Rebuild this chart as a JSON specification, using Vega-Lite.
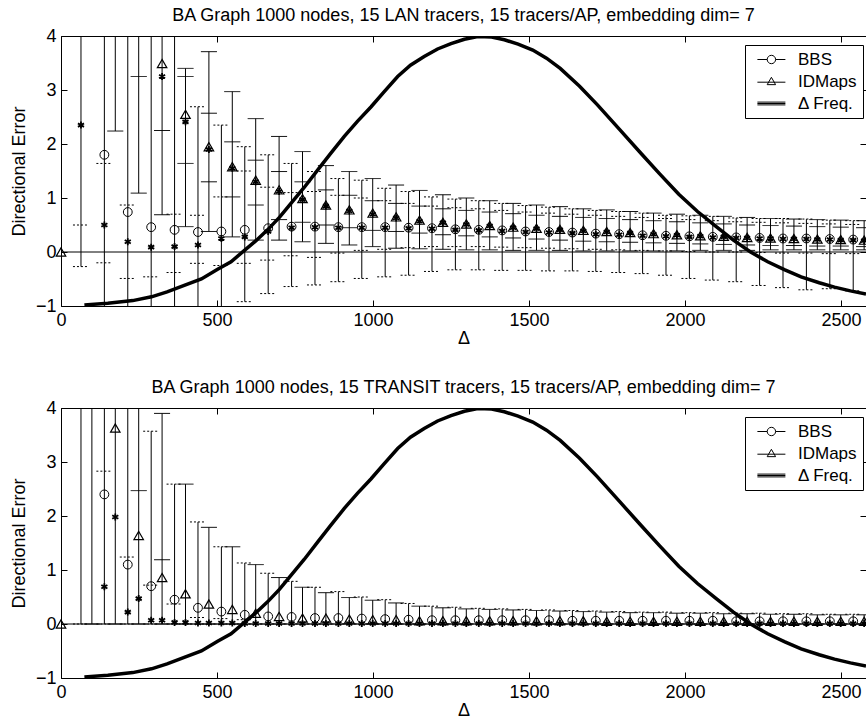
{
"$schema": "https://vega.github.io/schema/vega-lite/v6.json",
"padding": {"left": 9, "top": 6, "right": 0, "bottom": 0},
"config": {
  "font": "Liberation Sans",
  "view": {"stroke": "black", "strokeWidth": 1},
  "axis": {"grid": false, "domain": false, "tickColor": "black", "tickSize": -6, "tickWidth": 1, "labelColor": "black", "labelFontSize": 18, "labelPadding": 11, "labelFlush": false, "labelOverlap": false, "titleColor": "black", "titleFontSize": 18, "titleFontWeight": "normal", "labelFont": "Liberation Sans", "titleFont": "Liberation Sans"},
  "title": {"fontSize": 18, "fontWeight": "normal", "color": "black", "font": "Liberation Sans", "offset": 2},
  "legend": {"labelFontSize": 17, "labelColor": "black", "labelFont": "Liberation Sans"}
},
"datasets": {
  "freq": [
    {"x":75,"y":-0.98},{"x":150,"y":-0.95},{"x":230,"y":-0.9},{"x":290,"y":-0.83},{"x":340,"y":-0.74},{"x":395,"y":-0.62},{"x":450,"y":-0.5},{"x":502,"y":-0.32},{"x":545,"y":-0.18},{"x":588,"y":0.03},{"x":625,"y":0.21},{"x":662,"y":0.41},{"x":700,"y":0.64},{"x":737,"y":0.9},{"x":780,"y":1.2},{"x":823,"y":1.52},{"x":865,"y":1.83},{"x":908,"y":2.14},{"x":950,"y":2.42},{"x":994,"y":2.69},{"x":1036,"y":2.97},{"x":1079,"y":3.25},{"x":1120,"y":3.46},{"x":1164,"y":3.62},{"x":1207,"y":3.76},{"x":1250,"y":3.86},{"x":1293,"y":3.94},{"x":1336,"y":3.99},{"x":1380,"y":3.98},{"x":1421,"y":3.93},{"x":1465,"y":3.85},{"x":1512,"y":3.74},{"x":1556,"y":3.59},{"x":1600,"y":3.4},{"x":1662,"y":3.07},{"x":1720,"y":2.72},{"x":1790,"y":2.27},{"x":1860,"y":1.82},{"x":1918,"y":1.45},{"x":1980,"y":1.07},{"x":2040,"y":0.75},{"x":2100,"y":0.47},{"x":2155,"y":0.22},{"x":2210,"y":0.0},{"x":2265,"y":-0.18},{"x":2320,"y":-0.33},{"x":2372,"y":-0.46},{"x":2430,"y":-0.57},{"x":2479,"y":-0.65},{"x":2530,"y":-0.72},{"x":2580,"y":-0.78}
  ],
  "err": [
    {"p":"LAN","s":"BBS","x":64,"d":2.35,"lo":-0.27,"hi":5,"q1":0.5},
    {"p":"LAN","s":"BBS","x":139,"m":1.8,"d":0.5,"lo":-1.3,"hi":5,"q1":1.64,"q2":-0.2},
    {"p":"LAN","s":"BBS","x":214,"m":0.74,"d":0.19,"lo":-1.3,"hi":5,"q1":0.87,"q2":-0.49},
    {"p":"LAN","s":"BBS","x":289,"m":0.46,"d":0.09,"lo":-1.3,"hi":5,"q1":-0.46},
    {"p":"LAN","s":"BBS","x":364,"m":0.41,"d":0.1,"lo":-1.2,"hi":5,"q1":0.7,"q2":-0.38},
    {"p":"LAN","s":"BBS","x":439,"m":0.37,"d":0.13,"lo":-1.1,"hi":2.69,"q1":0.68,"q2":-0.21},
    {"p":"LAN","s":"BBS","x":514,"m":0.38,"d":0.25,"lo":-1.05,"hi":2.35,"q1":1.02,"q2":-0.25},
    {"p":"LAN","s":"BBS","x":589,"m":0.41,"d":0.28,"lo":-0.92,"hi":1.95,"q1":1.5,"q2":-0.21},
    {"p":"LAN","s":"BBS","x":664,"m":0.44,"d":0.38,"lo":-0.77,"hi":1.8,"q1":1.2,"q2":-0.15},
    {"p":"LAN","s":"BBS","x":739,"m":0.47,"d":0.45,"lo":-0.64,"hi":1.64,"q1":1.1,"q2":-0.07},
    {"p":"LAN","s":"BBS","x":814,"m":0.47,"d":0.46,"lo":-0.61,"hi":1.49,"q1":1.12,"q2":-0.1},
    {"p":"LAN","s":"BBS","x":889,"m":0.46,"d":0.45,"lo":-0.55,"hi":1.36,"q1":1.05,"q2":-0.02},
    {"p":"LAN","s":"BBS","x":964,"m":0.46,"d":0.45,"lo":-0.49,"hi":1.33,"q1":1.0,"q2":0.03},
    {"p":"LAN","s":"BBS","x":1039,"m":0.46,"d":0.45,"lo":-0.46,"hi":1.18,"q1":0.95,"q2":0.05},
    {"p":"LAN","s":"BBS","x":1114,"m":0.45,"d":0.44,"lo":-0.43,"hi":1.12,"q1":0.9,"q2":0.08},
    {"p":"LAN","s":"BBS","x":1189,"m":0.44,"d":0.43,"lo":-0.36,"hi":1.02,"q1":0.85,"q2":0.1},
    {"p":"LAN","s":"BBS","x":1264,"m":0.42,"d":0.41,"lo":-0.33,"hi":0.98,"q1":0.82,"q2":0.1},
    {"p":"LAN","s":"BBS","x":1339,"m":0.41,"d":0.4,"lo":-0.33,"hi":0.95,"q1":0.8,"q2":0.1},
    {"p":"LAN","s":"BBS","x":1414,"m":0.4,"d":0.39,"lo":-0.34,"hi":0.9,"q1":0.77,"q2":0.09},
    {"p":"LAN","s":"BBS","x":1489,"m":0.38,"d":0.37,"lo":-0.34,"hi":0.86,"q1":0.74,"q2":0.08},
    {"p":"LAN","s":"BBS","x":1564,"m":0.37,"d":0.36,"lo":-0.35,"hi":0.83,"q1":0.72,"q2":0.07},
    {"p":"LAN","s":"BBS","x":1639,"m":0.36,"d":0.35,"lo":-0.35,"hi":0.8,"q1":0.7,"q2":0.06},
    {"p":"LAN","s":"BBS","x":1714,"m":0.34,"d":0.33,"lo":-0.36,"hi":0.77,"q1":0.68,"q2":0.05},
    {"p":"LAN","s":"BBS","x":1789,"m":0.33,"d":0.32,"lo":-0.38,"hi":0.75,"q1":0.66,"q2":0.04},
    {"p":"LAN","s":"BBS","x":1864,"m":0.31,"d":0.3,"lo":-0.4,"hi":0.72,"q1":0.64,"q2":0.03},
    {"p":"LAN","s":"BBS","x":1939,"m":0.3,"d":0.29,"lo":-0.43,"hi":0.68,"q1":0.62,"q2":0.02},
    {"p":"LAN","s":"BBS","x":2014,"m":0.29,"d":0.28,"lo":-0.49,"hi":0.67,"q1":0.6,"q2":0.01},
    {"p":"LAN","s":"BBS","x":2089,"m":0.28,"d":0.27,"lo":-0.52,"hi":0.66,"q1":0.58,"q2":0.0},
    {"p":"LAN","s":"BBS","x":2164,"m":0.27,"d":0.26,"lo":-0.55,"hi":0.63,"q1":0.56,"q2":0.0},
    {"p":"LAN","s":"BBS","x":2239,"m":0.26,"d":0.25,"lo":-0.62,"hi":0.62,"q1":0.55,"q2":-0.01},
    {"p":"LAN","s":"BBS","x":2314,"m":0.25,"d":0.24,"lo":-0.66,"hi":0.62,"q1":0.54,"q2":-0.02},
    {"p":"LAN","s":"BBS","x":2389,"m":0.25,"d":0.24,"lo":-0.7,"hi":0.61,"q1":0.53,"q2":-0.02},
    {"p":"LAN","s":"BBS","x":2464,"m":0.24,"d":0.23,"lo":-0.68,"hi":0.59,"q1":0.52,"q2":-0.03},
    {"p":"LAN","s":"BBS","x":2539,"m":0.23,"d":0.22,"lo":-0.72,"hi":0.58,"q1":0.51,"q2":-0.03},
    {"p":"LAN","s":"IDMaps","x":0,"m":0},
    {"p":"LAN","s":"IDMaps","x":174,"lo":2.24,"hi":5},
    {"p":"LAN","s":"IDMaps","x":249,"lo":1.09,"hi":5,"q1":3.25},
    {"p":"LAN","s":"IDMaps","x":324,"m":3.49,"d":3.25,"lo":0.69,"hi":5,"q1":2.25},
    {"p":"LAN","s":"IDMaps","x":399,"m":2.55,"d":2.41,"lo":0.47,"hi":3.4,"q1":3.25,"q2":1.64},
    {"p":"LAN","s":"IDMaps","x":474,"m":1.95,"d":1.9,"lo":0.38,"hi":3.71,"q1":2.57,"q2":1.3},
    {"p":"LAN","s":"IDMaps","x":549,"m":1.58,"d":1.55,"lo":0.28,"hi":2.97,"q1":2.04,"q2":1.02},
    {"p":"LAN","s":"IDMaps","x":624,"m":1.33,"d":1.3,"lo":0.22,"hi":2.47,"q1":1.7,"q2":0.87},
    {"p":"LAN","s":"IDMaps","x":699,"m":1.15,"d":1.12,"lo":0.22,"hi":2.14,"q1":1.49,"q2":0.6},
    {"p":"LAN","s":"IDMaps","x":774,"m":0.99,"d":0.97,"lo":0.19,"hi":1.86,"q1":1.3,"q2":0.55},
    {"p":"LAN","s":"IDMaps","x":849,"m":0.87,"d":0.85,"lo":0.16,"hi":1.6,"q1":1.15,"q2":0.5},
    {"p":"LAN","s":"IDMaps","x":924,"m":0.78,"d":0.76,"lo":0.13,"hi":1.49,"q1":1.05,"q2":0.45},
    {"p":"LAN","s":"IDMaps","x":999,"m":0.72,"d":0.7,"lo":0.1,"hi":1.36,"q1":0.95,"q2":0.4},
    {"p":"LAN","s":"IDMaps","x":1074,"m":0.65,"d":0.63,"lo":0.07,"hi":1.24,"q1":0.9,"q2":0.38},
    {"p":"LAN","s":"IDMaps","x":1149,"m":0.59,"d":0.57,"lo":0.06,"hi":1.14,"q1":0.85,"q2":0.35},
    {"p":"LAN","s":"IDMaps","x":1224,"m":0.55,"d":0.54,"lo":0.05,"hi":1.06,"q1":0.8,"q2":0.32},
    {"p":"LAN","s":"IDMaps","x":1299,"m":0.52,"d":0.51,"lo":0.04,"hi":1.0,"q1":0.77,"q2":0.3},
    {"p":"LAN","s":"IDMaps","x":1374,"m":0.49,"d":0.48,"lo":0.04,"hi":0.95,"q1":0.74,"q2":0.28},
    {"p":"LAN","s":"IDMaps","x":1449,"m":0.46,"d":0.45,"lo":0.03,"hi":0.9,"q1":0.71,"q2":0.26},
    {"p":"LAN","s":"IDMaps","x":1524,"m":0.44,"d":0.43,"lo":0.03,"hi":0.87,"q1":0.68,"q2":0.24},
    {"p":"LAN","s":"IDMaps","x":1599,"m":0.42,"d":0.41,"lo":0.03,"hi":0.84,"q1":0.66,"q2":0.22},
    {"p":"LAN","s":"IDMaps","x":1674,"m":0.4,"d":0.39,"lo":0.02,"hi":0.8,"q1":0.64,"q2":0.2},
    {"p":"LAN","s":"IDMaps","x":1749,"m":0.38,"d":0.37,"lo":0.02,"hi":0.78,"q1":0.62,"q2":0.19},
    {"p":"LAN","s":"IDMaps","x":1824,"m":0.36,"d":0.35,"lo":0.02,"hi":0.75,"q1":0.6,"q2":0.18},
    {"p":"LAN","s":"IDMaps","x":1899,"m":0.34,"d":0.33,"lo":0.02,"hi":0.72,"q1":0.58,"q2":0.17},
    {"p":"LAN","s":"IDMaps","x":1974,"m":0.32,"d":0.31,"lo":0.02,"hi":0.7,"q1":0.56,"q2":0.16},
    {"p":"LAN","s":"IDMaps","x":2049,"m":0.3,"d":0.29,"lo":0.03,"hi":0.68,"q1":0.54,"q2":0.15},
    {"p":"LAN","s":"IDMaps","x":2124,"m":0.29,"d":0.28,"lo":0.03,"hi":0.66,"q1":0.52,"q2":0.14},
    {"p":"LAN","s":"IDMaps","x":2199,"m":0.27,"d":0.26,"lo":0.03,"hi":0.64,"q1":0.5,"q2":0.13},
    {"p":"LAN","s":"IDMaps","x":2274,"m":0.26,"d":0.25,"lo":0.04,"hi":0.62,"q1":0.49,"q2":0.12},
    {"p":"LAN","s":"IDMaps","x":2349,"m":0.25,"d":0.24,"lo":0.04,"hi":0.61,"q1":0.48,"q2":0.12},
    {"p":"LAN","s":"IDMaps","x":2424,"m":0.24,"d":0.23,"lo":0.04,"hi":0.6,"q1":0.47,"q2":0.11},
    {"p":"LAN","s":"IDMaps","x":2499,"m":0.23,"d":0.22,"lo":0.04,"hi":0.59,"q1":0.46,"q2":0.11},
    {"p":"LAN","s":"IDMaps","x":2574,"m":0.22,"d":0.21,"lo":0.04,"hi":0.58,"q1":0.45,"q2":0.1},
    {"p":"TRANSIT","s":"BBS","x":64,"lo":0,"hi":5},
    {"p":"TRANSIT","s":"BBS","x":139,"m":2.4,"d":0.69,"lo":0,"hi":5,"q1":2.83},
    {"p":"TRANSIT","s":"BBS","x":214,"m":1.1,"d":0.22,"lo":0,"hi":5,"q1":1.24},
    {"p":"TRANSIT","s":"BBS","x":289,"m":0.7,"d":0.07,"lo":0,"hi":3.57,"q1":0.72},
    {"p":"TRANSIT","s":"BBS","x":364,"m":0.45,"d":0.03,"lo":0,"hi":2.59,"q1":0.37},
    {"p":"TRANSIT","s":"BBS","x":439,"m":0.3,"d":0.02,"lo":0,"hi":1.89,"q1":0.12},
    {"p":"TRANSIT","s":"BBS","x":514,"m":0.23,"d":0.02,"lo":0,"hi":1.43,"q1":0.1},
    {"p":"TRANSIT","s":"BBS","x":589,"m":0.17,"d":0.01,"lo":0,"hi":1.13,"q1":0.08},
    {"p":"TRANSIT","s":"BBS","x":664,"m":0.14,"d":0.01,"lo":0,"hi":0.94},
    {"p":"TRANSIT","s":"BBS","x":739,"m":0.13,"d":0.01,"lo":0,"hi":0.79},
    {"p":"TRANSIT","s":"BBS","x":814,"m":0.11,"d":0.01,"lo":0,"hi":0.68},
    {"p":"TRANSIT","s":"BBS","x":889,"m":0.11,"d":0.01,"lo":0,"hi":0.6},
    {"p":"TRANSIT","s":"BBS","x":964,"m":0.1,"d":0.01,"lo":0,"hi":0.5},
    {"p":"TRANSIT","s":"BBS","x":1039,"m":0.09,"d":0.01,"lo":0,"hi":0.45},
    {"p":"TRANSIT","s":"BBS","x":1114,"m":0.08,"d":0.01,"lo":0,"hi":0.38},
    {"p":"TRANSIT","s":"BBS","x":1189,"m":0.07,"d":0.01,"lo":0,"hi":0.33},
    {"p":"TRANSIT","s":"BBS","x":1264,"m":0.07,"d":0.01,"lo":0,"hi":0.31},
    {"p":"TRANSIT","s":"BBS","x":1339,"m":0.07,"d":0.01,"lo":0,"hi":0.29},
    {"p":"TRANSIT","s":"BBS","x":1414,"m":0.07,"d":0.01,"lo":0,"hi":0.28},
    {"p":"TRANSIT","s":"BBS","x":1489,"m":0.07,"d":0.01,"lo":0,"hi":0.27},
    {"p":"TRANSIT","s":"BBS","x":1564,"m":0.07,"d":0.01,"lo":0,"hi":0.26},
    {"p":"TRANSIT","s":"BBS","x":1639,"m":0.06,"d":0.01,"lo":0,"hi":0.25},
    {"p":"TRANSIT","s":"BBS","x":1714,"m":0.06,"d":0.01,"lo":0,"hi":0.24},
    {"p":"TRANSIT","s":"BBS","x":1789,"m":0.06,"d":0.01,"lo":0,"hi":0.23},
    {"p":"TRANSIT","s":"BBS","x":1864,"m":0.06,"d":0.01,"lo":0,"hi":0.22},
    {"p":"TRANSIT","s":"BBS","x":1939,"m":0.06,"d":0.01,"lo":0,"hi":0.22},
    {"p":"TRANSIT","s":"BBS","x":2014,"m":0.06,"d":0.01,"lo":0,"hi":0.21},
    {"p":"TRANSIT","s":"BBS","x":2089,"m":0.06,"d":0.01,"lo":0,"hi":0.21},
    {"p":"TRANSIT","s":"BBS","x":2164,"m":0.05,"d":0.01,"lo":0,"hi":0.2},
    {"p":"TRANSIT","s":"BBS","x":2239,"m":0.05,"d":0.01,"lo":0,"hi":0.2},
    {"p":"TRANSIT","s":"BBS","x":2314,"m":0.05,"d":0.01,"lo":0,"hi":0.19},
    {"p":"TRANSIT","s":"BBS","x":2389,"m":0.05,"d":0.01,"lo":0,"hi":0.19},
    {"p":"TRANSIT","s":"BBS","x":2464,"m":0.05,"d":0.01,"lo":0,"hi":0.18},
    {"p":"TRANSIT","s":"BBS","x":2539,"m":0.05,"d":0.01,"lo":0,"hi":0.18},
    {"p":"TRANSIT","s":"IDMaps","x":0,"m":0},
    {"p":"TRANSIT","s":"IDMaps","x":99,"lo":0,"hi":5},
    {"p":"TRANSIT","s":"IDMaps","x":174,"m":3.63,"d":1.98,"lo":0,"hi":5},
    {"p":"TRANSIT","s":"IDMaps","x":249,"m":1.64,"d":0.47,"lo":0,"hi":5,"q1":2.47},
    {"p":"TRANSIT","s":"IDMaps","x":324,"m":0.86,"d":0.07,"lo":0,"hi":3.9,"q1":1.19},
    {"p":"TRANSIT","s":"IDMaps","x":399,"m":0.56,"d":0.03,"lo":0,"hi":2.59},
    {"p":"TRANSIT","s":"IDMaps","x":474,"m":0.37,"d":0.02,"lo":0,"hi":1.79},
    {"p":"TRANSIT","s":"IDMaps","x":549,"m":0.27,"d":0.02,"lo":0,"hi":1.43},
    {"p":"TRANSIT","s":"IDMaps","x":624,"m":0.2,"d":0.01,"lo":0,"hi":1.1},
    {"p":"TRANSIT","s":"IDMaps","x":699,"m":0.14,"d":0.01,"lo":0,"hi":0.86},
    {"p":"TRANSIT","s":"IDMaps","x":774,"m":0.11,"d":0.01,"lo":0,"hi":0.68},
    {"p":"TRANSIT","s":"IDMaps","x":849,"m":0.11,"d":0.01,"lo":0,"hi":0.58},
    {"p":"TRANSIT","s":"IDMaps","x":924,"m":0.09,"d":0.01,"lo":0,"hi":0.49},
    {"p":"TRANSIT","s":"IDMaps","x":999,"m":0.08,"d":0.01,"lo":0,"hi":0.44},
    {"p":"TRANSIT","s":"IDMaps","x":1074,"m":0.08,"d":0.01,"lo":0,"hi":0.39},
    {"p":"TRANSIT","s":"IDMaps","x":1149,"m":0.06,"d":0.01,"lo":0,"hi":0.33},
    {"p":"TRANSIT","s":"IDMaps","x":1224,"m":0.06,"d":0.01,"lo":0,"hi":0.3},
    {"p":"TRANSIT","s":"IDMaps","x":1299,"m":0.06,"d":0.01,"lo":0,"hi":0.28},
    {"p":"TRANSIT","s":"IDMaps","x":1374,"m":0.06,"d":0.01,"lo":0,"hi":0.27},
    {"p":"TRANSIT","s":"IDMaps","x":1449,"m":0.06,"d":0.01,"lo":0,"hi":0.26},
    {"p":"TRANSIT","s":"IDMaps","x":1524,"m":0.06,"d":0.01,"lo":0,"hi":0.25},
    {"p":"TRANSIT","s":"IDMaps","x":1599,"m":0.06,"d":0.01,"lo":0,"hi":0.24},
    {"p":"TRANSIT","s":"IDMaps","x":1674,"m":0.06,"d":0.01,"lo":0,"hi":0.23},
    {"p":"TRANSIT","s":"IDMaps","x":1749,"m":0.05,"d":0.01,"lo":0,"hi":0.22},
    {"p":"TRANSIT","s":"IDMaps","x":1824,"m":0.05,"d":0.01,"lo":0,"hi":0.21},
    {"p":"TRANSIT","s":"IDMaps","x":1899,"m":0.05,"d":0.01,"lo":0,"hi":0.21},
    {"p":"TRANSIT","s":"IDMaps","x":1974,"m":0.05,"d":0.01,"lo":0,"hi":0.2},
    {"p":"TRANSIT","s":"IDMaps","x":2049,"m":0.05,"d":0.01,"lo":0,"hi":0.2},
    {"p":"TRANSIT","s":"IDMaps","x":2124,"m":0.05,"d":0.01,"lo":0,"hi":0.19},
    {"p":"TRANSIT","s":"IDMaps","x":2199,"m":0.05,"d":0.01,"lo":0,"hi":0.19},
    {"p":"TRANSIT","s":"IDMaps","x":2274,"m":0.05,"d":0.01,"lo":0,"hi":0.18},
    {"p":"TRANSIT","s":"IDMaps","x":2349,"m":0.05,"d":0.01,"lo":0,"hi":0.18},
    {"p":"TRANSIT","s":"IDMaps","x":2424,"m":0.05,"d":0.01,"lo":0,"hi":0.17},
    {"p":"TRANSIT","s":"IDMaps","x":2499,"m":0.05,"d":0.01,"lo":0,"hi":0.17},
    {"p":"TRANSIT","s":"IDMaps","x":2574,"m":0.05,"d":0.01,"lo":0,"hi":0.17}
  ]
},
"spacing": 30,
"resolve": {"scale": {"shape": "independent", "strokeDash": "independent"}, "legend": {"shape": "independent"}},
"vconcat": [
 {
  "width": 805, "height": 270,
  "title": {"text": "BA Graph 1000 nodes, 15 LAN tracers, 15 tracers/AP, embedding dim= 7"},
  "layer": [
   {"data": {"values": [{"y": 0}]}, "mark": {"type": "rule", "color": "black", "strokeWidth": 1}, "encoding": {"y": {"field": "y", "type": "quantitative", "scale": {"domain": [-1, 4], "nice": false, "zero": false}, "axis": null}}},
   {"data": {"name": "err"}, "transform": [{"filter": "datum.p == 'LAN'"}], "mark": {"type": "rule", "color": "black", "strokeWidth": 1, "clip": true},
    "encoding": {"x": {"field": "x", "type": "quantitative", "scale": {"domain": [0, 2580], "nice": false, "zero": false}, "axis": {"orient": "bottom", "title": "Δ", "format": "d", "values": [0, 500, 1000, 1500, 2000, 2500], "titlePadding": 0}},
                 "y": {"field": "lo", "type": "quantitative", "scale": {"domain": [-1, 4], "nice": false, "zero": false}, "axis": {"orient": "left", "title": "Directional Error", "values": [-1, 0, 1, 2, 3, 4], "titlePadding": 7}},
                 "y2": {"field": "hi"}}},
   {"data": {"name": "err"}, "transform": [{"filter": "datum.p == 'LAN'"}, {"fold": ["lo", "hi", "q1", "q2"], "as": ["k", "v"]}], "mark": {"type": "rule", "color": "black", "strokeWidth": 1, "xOffset": -8, "x2Offset": 8, "clip": true},
    "encoding": {"x": {"field": "x", "type": "quantitative", "scale": {"domain": [0, 2580], "nice": false, "zero": false}, "axis": null},
                 "x2": {"field": "x"},
                 "y": {"field": "v", "type": "quantitative", "scale": {"domain": [-1, 4], "nice": false, "zero": false}, "axis": null},
                 "strokeDash": {"field": "s", "type": "nominal", "scale": {"domain": ["BBS", "IDMaps"], "range": [[2, 2], [1, 0]]}, "legend": null}}},
   {"data": {"name": "err"}, "transform": [{"filter": "datum.p == 'LAN' && datum.s == 'BBS'"}], "mark": {"type": "point", "shape": "circle", "size": 78, "filled": false, "color": "black", "strokeWidth": 1, "opacity": 1},
    "encoding": {"x": {"field": "x", "type": "quantitative", "scale": {"domain": [0, 2580], "nice": false, "zero": false}, "axis": null},
                 "y": {"field": "m", "type": "quantitative", "scale": {"domain": [-1, 4], "nice": false, "zero": false}, "axis": null}}},
   {"data": {"name": "err"}, "transform": [{"filter": "datum.p == 'LAN' && datum.s == 'IDMaps'"}], "mark": {"type": "point", "shape": "triangle-up", "size": 90, "filled": false, "color": "black", "strokeWidth": 1.2, "opacity": 1},
    "encoding": {"x": {"field": "x", "type": "quantitative", "scale": {"domain": [0, 2580], "nice": false, "zero": false}, "axis": null},
                 "y": {"field": "m", "type": "quantitative", "scale": {"domain": [-1, 4], "nice": false, "zero": false}, "axis": null}}},
   {"data": {"name": "err"}, "transform": [{"filter": "datum.p == 'LAN'"}], "mark": {"type": "point", "shape": "M0,-1V1M-0.87,-0.5L0.87,0.5M-0.87,0.5L0.87,-0.5", "size": 49, "filled": false, "color": "black", "strokeWidth": 1.8, "opacity": 1},
    "encoding": {"x": {"field": "x", "type": "quantitative", "scale": {"domain": [0, 2580], "nice": false, "zero": false}, "axis": null},
                 "y": {"field": "d", "type": "quantitative", "scale": {"domain": [-1, 4], "nice": false, "zero": false}, "axis": null}}},
   {"data": {"name": "freq"}, "mark": {"type": "line", "color": "black", "strokeWidth": 3.5, "clip": true},
    "encoding": {"x": {"field": "x", "type": "quantitative", "scale": {"domain": [0, 2580], "nice": false, "zero": false}, "axis": {"orient": "top", "title": null, "labels": false, "values": [0, 500, 1000, 1500, 2000, 2500]}},
                 "y": {"field": "y", "type": "quantitative", "scale": {"domain": [-1, 4], "nice": false, "zero": false}, "axis": {"orient": "right", "title": null, "labels": false, "values": [-1, 0, 1, 2, 3, 4]}}}},
   {"data": {"name": "freq"}, "transform": [{"filter": "datum.x < 0"}], "mark": {"type": "point", "filled": false, "color": "black", "strokeWidth": 1, "opacity": 1},
    "encoding": {"x": {"field": "x", "type": "quantitative", "scale": {"domain": [0, 2580], "nice": false, "zero": false}, "axis": null},
                 "y": {"field": "y", "type": "quantitative", "scale": {"domain": [-1, 4], "nice": false, "zero": false}, "axis": null},
                 "shape": {"field": "series", "type": "nominal", "scale": {"domain": ["BBS", "IDMaps", "Δ Freq."], "range": ["M-0.3,0H1.1M2.3,0H3.7M2.3,0A0.6,0.6 0 1,1 1.1,0A0.6,0.6 0 1,1 2.3,0", "M-0.3,0.1H3.7M1.7,-0.6L2.3,0.45L1.1,0.45Z", "M-0.3,-0.2H3.7M-0.3,0H3.7M-0.3,0.2H3.7"]},
                           "legend": {"title": null, "orient": "none", "legendX": 684, "legendY": 9, "strokeColor": "black", "fillColor": "white", "padding": 6, "symbolSize": 196, "symbolStrokeColor": "black", "symbolFillColor": "transparent", "symbolStrokeWidth": 1, "labelFontSize": 17, "labelOffset": 30, "rowPadding": 4, "labelLimit": 300}}}}
  ]
 },
 {
  "width": 805, "height": 270,
  "title": {"text": "BA Graph 1000 nodes, 15 TRANSIT tracers, 15 tracers/AP, embedding dim= 7"},
  "layer": [
   {"data": {"values": [{"y": 0}]}, "mark": {"type": "rule", "color": "black", "strokeWidth": 1}, "encoding": {"y": {"field": "y", "type": "quantitative", "scale": {"domain": [-1, 4], "nice": false, "zero": false}, "axis": null}}},
   {"data": {"name": "err"}, "transform": [{"filter": "datum.p == 'TRANSIT'"}], "mark": {"type": "rule", "color": "black", "strokeWidth": 1, "clip": true},
    "encoding": {"x": {"field": "x", "type": "quantitative", "scale": {"domain": [0, 2580], "nice": false, "zero": false}, "axis": {"orient": "bottom", "title": "Δ", "format": "d", "values": [0, 500, 1000, 1500, 2000, 2500], "titlePadding": 0}},
                 "y": {"field": "lo", "type": "quantitative", "scale": {"domain": [-1, 4], "nice": false, "zero": false}, "axis": {"orient": "left", "title": "Directional Error", "values": [-1, 0, 1, 2, 3, 4], "titlePadding": 7}},
                 "y2": {"field": "hi"}}},
   {"data": {"name": "err"}, "transform": [{"filter": "datum.p == 'TRANSIT'"}, {"fold": ["lo", "hi", "q1", "q2"], "as": ["k", "v"]}], "mark": {"type": "rule", "color": "black", "strokeWidth": 1, "xOffset": -8, "x2Offset": 8, "clip": true},
    "encoding": {"x": {"field": "x", "type": "quantitative", "scale": {"domain": [0, 2580], "nice": false, "zero": false}, "axis": null},
                 "x2": {"field": "x"},
                 "y": {"field": "v", "type": "quantitative", "scale": {"domain": [-1, 4], "nice": false, "zero": false}, "axis": null},
                 "strokeDash": {"field": "s", "type": "nominal", "scale": {"domain": ["BBS", "IDMaps"], "range": [[2, 2], [1, 0]]}, "legend": null}}},
   {"data": {"name": "err"}, "transform": [{"filter": "datum.p == 'TRANSIT' && datum.s == 'BBS'"}], "mark": {"type": "point", "shape": "circle", "size": 78, "filled": false, "color": "black", "strokeWidth": 1, "opacity": 1},
    "encoding": {"x": {"field": "x", "type": "quantitative", "scale": {"domain": [0, 2580], "nice": false, "zero": false}, "axis": null},
                 "y": {"field": "m", "type": "quantitative", "scale": {"domain": [-1, 4], "nice": false, "zero": false}, "axis": null}}},
   {"data": {"name": "err"}, "transform": [{"filter": "datum.p == 'TRANSIT' && datum.s == 'IDMaps'"}], "mark": {"type": "point", "shape": "triangle-up", "size": 90, "filled": false, "color": "black", "strokeWidth": 1.2, "opacity": 1},
    "encoding": {"x": {"field": "x", "type": "quantitative", "scale": {"domain": [0, 2580], "nice": false, "zero": false}, "axis": null},
                 "y": {"field": "m", "type": "quantitative", "scale": {"domain": [-1, 4], "nice": false, "zero": false}, "axis": null}}},
   {"data": {"name": "err"}, "transform": [{"filter": "datum.p == 'TRANSIT'"}], "mark": {"type": "point", "shape": "M0,-1V1M-0.87,-0.5L0.87,0.5M-0.87,0.5L0.87,-0.5", "size": 49, "filled": false, "color": "black", "strokeWidth": 1.8, "opacity": 1},
    "encoding": {"x": {"field": "x", "type": "quantitative", "scale": {"domain": [0, 2580], "nice": false, "zero": false}, "axis": null},
                 "y": {"field": "d", "type": "quantitative", "scale": {"domain": [-1, 4], "nice": false, "zero": false}, "axis": null}}},
   {"data": {"name": "freq"}, "mark": {"type": "line", "color": "black", "strokeWidth": 3.5, "clip": true},
    "encoding": {"x": {"field": "x", "type": "quantitative", "scale": {"domain": [0, 2580], "nice": false, "zero": false}, "axis": {"orient": "top", "title": null, "labels": false, "values": [0, 500, 1000, 1500, 2000, 2500]}},
                 "y": {"field": "y", "type": "quantitative", "scale": {"domain": [-1, 4], "nice": false, "zero": false}, "axis": {"orient": "right", "title": null, "labels": false, "values": [-1, 0, 1, 2, 3, 4]}}}},
   {"data": {"name": "freq"}, "transform": [{"filter": "datum.x < 0"}], "mark": {"type": "point", "filled": false, "color": "black", "strokeWidth": 1, "opacity": 1},
    "encoding": {"x": {"field": "x", "type": "quantitative", "scale": {"domain": [0, 2580], "nice": false, "zero": false}, "axis": null},
                 "y": {"field": "y", "type": "quantitative", "scale": {"domain": [-1, 4], "nice": false, "zero": false}, "axis": null},
                 "shape": {"field": "series", "type": "nominal", "scale": {"domain": ["BBS", "IDMaps", "Δ Freq."], "range": ["M-0.3,0H1.1M2.3,0H3.7M2.3,0A0.6,0.6 0 1,1 1.1,0A0.6,0.6 0 1,1 2.3,0", "M-0.3,0.1H3.7M1.7,-0.6L2.3,0.45L1.1,0.45Z", "M-0.3,-0.2H3.7M-0.3,0H3.7M-0.3,0.2H3.7"]},
                           "legend": {"title": null, "orient": "none", "legendX": 684, "legendY": 9, "strokeColor": "black", "fillColor": "white", "padding": 6, "symbolSize": 196, "symbolStrokeColor": "black", "symbolFillColor": "transparent", "symbolStrokeWidth": 1, "labelFontSize": 17, "labelOffset": 30, "rowPadding": 4, "labelLimit": 300}}}}
  ]
 }
]
}
